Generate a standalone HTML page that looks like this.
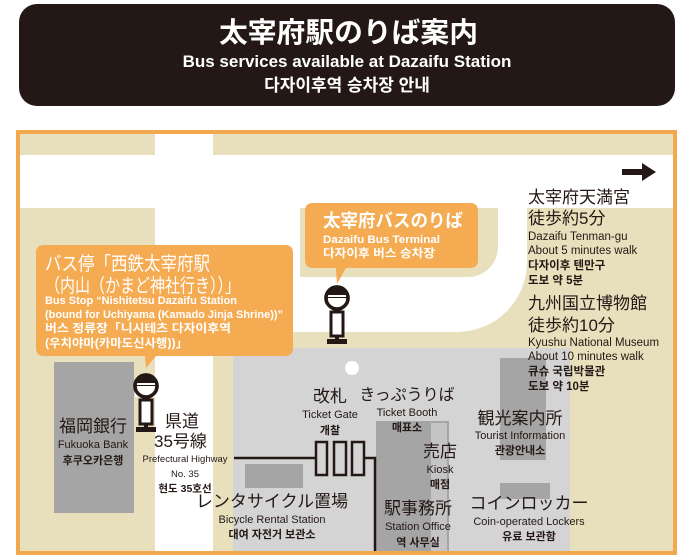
<!DOCTYPE html>
<html><head><meta charset="utf-8"><style>
html,body{margin:0;padding:0;background:#fff;width:700px;height:560px;overflow:hidden}
svg{display:block}
text{font-family:"Liberation Sans","Noto Sans CJK JP",sans-serif;fill:#231815}
.w{fill:#fff}
.b{font-weight:bold}
</style></head><body>
<svg width="700" height="560" viewBox="0 0 700 560" xmlns="http://www.w3.org/2000/svg">
<defs>
<g id="bus">
<circle cx="0" cy="0" r="11" fill="#fff" stroke="#231815" stroke-width="3.5"/>
<path d="M-11,0 A11,11 0 0 1 11,0 Z" fill="#231815"/>
<rect x="-11" y="-3" width="22" height="2" fill="#fff"/>
<rect x="-11" y="3" width="22" height="8" fill="#fff"/>
<circle cx="0" cy="0" r="11" fill="none" stroke="#231815" stroke-width="3.5"/>
<rect x="-1.5" y="11" width="3" height="3" fill="#231815"/>
<rect x="-6" y="14" width="12" height="24" fill="#fff" stroke="#231815" stroke-width="3"/>
<rect x="-2" y="38" width="4" height="3" fill="#231815"/>
<rect x="-10" y="41" width="20" height="5" fill="#231815"/>
</g>
</defs>
<!-- header -->
<rect x="19" y="4" width="656" height="102" rx="18" fill="#231815"/>
<text x="219" y="42" class="w b" font-size="28" textLength="259" lengthAdjust="spacingAndGlyphs">太宰府駅のりば案内</text>
<text x="347" y="67" class="w b" font-size="17" text-anchor="middle">Bus services available at Dazaifu Station</text>
<text x="347" y="91" class="w b" font-size="17" text-anchor="middle">다자이후역 승차장 안내</text>
<!-- map -->
<rect x="18" y="132" width="657" height="421" fill="#e8e0bd" stroke="#f2a94e" stroke-width="4"/>
<rect x="20" y="155" width="653" height="53" fill="#fff"/>
<rect x="155" y="134" width="58" height="417" fill="#fff"/>
<path d="M213,208 H527 V262 A70,70 0 0 1 457,332 H213 Z" fill="#fff"/>
<path d="M300,208 H498 V247 A30,30 0 0 1 468,277 H300 Z" fill="#e8e0bd"/>
<rect x="233" y="348" width="337" height="203" fill="#d4d4d4"/>
<rect x="54" y="362" width="80" height="151" fill="#a5a5a5"/>
<rect x="245" y="464" width="58" height="24" fill="#a5a5a5"/>
<rect x="376" y="421" width="73" height="130" fill="#a5a5a5"/>
<rect x="431" y="423" width="16" height="128" fill="#c4c4c4"/>
<rect x="500" y="358" width="46" height="102" fill="#a5a5a5"/>
<rect x="500" y="483" width="50" height="16" fill="#a5a5a5"/>
<circle cx="352" cy="368" r="7" fill="#fff"/>
<!-- gates -->
<line x1="234" y1="458" x2="316" y2="458" stroke="#231815" stroke-width="2.5"/>
<rect x="316" y="442" width="11" height="33" fill="none" stroke="#231815" stroke-width="2.5"/>
<rect x="334" y="442" width="12" height="33" fill="none" stroke="#231815" stroke-width="2.5"/>
<rect x="352" y="442" width="12" height="33" fill="none" stroke="#231815" stroke-width="2.5"/>
<polyline points="364,458 375,458 375,551" fill="none" stroke="#231815" stroke-width="2.5"/>
<!-- arrow -->
<path d="M622,169 H642 V163 L656,172 L642,181 V175 H622 Z" fill="#231815"/>
<!-- callouts -->
<path d="M44,245 H285 Q293,245 293,253 V348 Q293,356 285,356 H156 L146,368 L145,356 H44 Q36,356 36,348 V253 Q36,245 44,245 Z" fill="#f4ab52"/>
<text x="45" y="270" class="w" font-size="19" textLength="165" lengthAdjust="spacingAndGlyphs">バス停「西鉄太宰府駅</text>
<text x="45" y="292" class="w" font-size="19" textLength="195" lengthAdjust="spacingAndGlyphs">（内山（かまど神社行き））」</text>
<text x="45" y="304" class="w b" font-size="11" textLength="192" lengthAdjust="spacingAndGlyphs">Bus Stop “Nishitetsu Dazaifu Station</text>
<text x="45" y="318" class="w b" font-size="11" textLength="238" lengthAdjust="spacingAndGlyphs">(bound for Uchiyama (Kamado Jinja Shrine))”</text>
<text x="45" y="332" class="w b" font-size="11.5" textLength="186" lengthAdjust="spacingAndGlyphs">버스 정류장「니시테츠 다자이후역</text>
<text x="45" y="347" class="w b" font-size="11.5" textLength="143" lengthAdjust="spacingAndGlyphs">(우치야마(카마도신사행))」</text>
<path d="M313,203 H470 Q478,203 478,211 V260 Q478,268 470,268 H346 L337,284 L336,268 H313 Q305,268 305,260 V211 Q305,203 313,203 Z" fill="#f4ab52"/>
<text x="323" y="227" class="w b" font-size="18" textLength="140" lengthAdjust="spacingAndGlyphs">太宰府バスのりば</text>
<text x="323" y="243" class="w b" font-size="11" textLength="117" lengthAdjust="spacingAndGlyphs">Dazaifu Bus Terminal</text>
<text x="323" y="257" class="w b" font-size="11.5" textLength="112" lengthAdjust="spacingAndGlyphs">다자이후 버스 승차장</text>
<use href="#bus" x="337" y="298"/>
<use href="#bus" x="146" y="386"/>
<!-- right text -->
<text x="528" y="203" font-size="17">太宰府天満宮</text>
<text x="528" y="224" font-size="17">徒歩約5分</text>
<text x="528" y="240" font-size="11.5">Dazaifu Tenman-gu</text>
<text x="528" y="254" font-size="11.5">About 5 minutes walk</text>
<text x="528" y="269" font-size="11.5" class="b">다자이후 텐만구</text>
<text x="528" y="284" font-size="11.5" class="b">도보 약 5분</text>
<text x="528" y="309" font-size="17">九州国立博物館</text>
<text x="528" y="331" font-size="17">徒歩約10分</text>
<text x="528" y="346" font-size="11.5">Kyushu National Museum</text>
<text x="528" y="360" font-size="11.5">About 10 minutes walk</text>
<text x="528" y="375" font-size="11.5" class="b">큐슈 국립박물관</text>
<text x="528" y="390" font-size="11.5" class="b">도보 약 10분</text>
<!-- labels -->
<text x="93" y="432" font-size="17" text-anchor="middle">福岡銀行</text>
<text x="93" y="448" font-size="11" text-anchor="middle">Fukuoka Bank</text>
<text x="93" y="464" font-size="11" class="b" text-anchor="middle">후쿠오카은행</text>
<text x="165" y="427" font-size="17">県道</text>
<text x="154" y="447" font-size="17">35号線</text>
<text x="185" y="462" font-size="9.5" text-anchor="middle">Prefectural Highway</text>
<text x="185" y="477" font-size="9.5" text-anchor="middle">No. 35</text>
<text x="185" y="492" font-size="10.5" class="b" text-anchor="middle">현도 35호선</text>
<text x="330" y="402" font-size="17" text-anchor="middle">改札</text>
<text x="330" y="418" font-size="11" text-anchor="middle">Ticket Gate</text>
<text x="330" y="434" font-size="11" class="b" text-anchor="middle">개찰</text>
<text x="407" y="400" font-size="16" text-anchor="middle">きっぷうりば</text>
<text x="407" y="416" font-size="11" text-anchor="middle">Ticket Booth</text>
<text x="407" y="431" font-size="11" class="b" text-anchor="middle">매표소</text>
<text x="440" y="457" font-size="17" text-anchor="middle">売店</text>
<text x="440" y="473" font-size="11" text-anchor="middle">Kiosk</text>
<text x="440" y="488" font-size="11" class="b" text-anchor="middle">매점</text>
<text x="520" y="424" font-size="17" text-anchor="middle">観光案内所</text>
<text x="520" y="439" font-size="11" text-anchor="middle">Tourist Information</text>
<text x="520" y="454" font-size="11" class="b" text-anchor="middle">관광안내소</text>
<text x="272" y="507" font-size="17" text-anchor="middle">レンタサイクル置場</text>
<text x="272" y="523" font-size="11" text-anchor="middle">Bicycle Rental Station</text>
<text x="272" y="538" font-size="11" class="b" text-anchor="middle">대여 자전거 보관소</text>
<text x="418" y="514" font-size="17" text-anchor="middle">駅事務所</text>
<text x="418" y="530" font-size="11" text-anchor="middle">Station Office</text>
<text x="418" y="546" font-size="11" class="b" text-anchor="middle">역 사무실</text>
<text x="529" y="509" font-size="17" text-anchor="middle">コインロッカー</text>
<text x="529" y="525" font-size="11" text-anchor="middle">Coin-operated Lockers</text>
<text x="529" y="540" font-size="11" class="b" text-anchor="middle">유료 보관함</text>
</svg>
</body></html>
